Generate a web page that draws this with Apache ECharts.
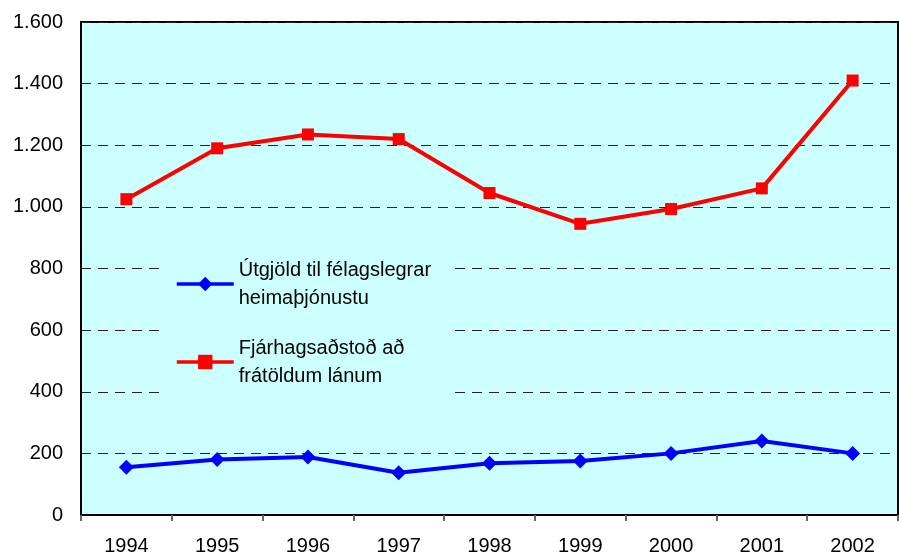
<!DOCTYPE html>
<html>
<head>
<meta charset="utf-8">
<script src="https://cdn.jsdelivr.net/npm/echarts@6/dist/echarts.min.js"></script>
<style>
  html, body { margin: 0; padding: 0; background: #fff; }
  #main { width: 899px; height: 558px; }
</style>
</head>
<body>
<div id="main"></div>
<script>
// data
const years = ['1994', '1995', '1996', '1997', '1998', '1999', '2000', '2001', '2002']
const heimathjonusta = [155, 180, 188, 137, 168, 175, 200, 240, 200]
const fjarhagsadstod = [1025, 1190, 1235, 1220, 1045, 945, 993, 1060, 1410]
const yTicks = [0, 200, 400, 600, 800, 1000, 1200, 1400, 1600]

const nameBlue = 'Útgjöld til félagslegrar heimaþjónustu'
const nameRed = 'Fjárhagsaðstoð að frátöldum lánum'
// legend text is wrapped on two lines like in the original
const legendText = {
  [nameBlue]: 'Útgjöld til félagslegrar\nheimaþjónustu',
  [nameRed]: 'Fjárhagsaðstoð að\nfrátöldum lánum'
}

const font = 'Liberation Sans, Arial, sans-serif'
const chart = echarts.init(document.getElementById('main'))

const option = {
  animation: false,
  textStyle: { fontFamily: font, color: '#000' },
  grid: {
    left: 81,
    right: 1,
    top: 22,
    bottom: 43,
    show: true,
    backgroundColor: '#ccffff',
    borderColor: '#000',
    borderWidth: 2
  },
  legend: {
    orient: 'vertical',
    left: 165,
    top: 238,
    padding: [4, 20, 10, 10],
    backgroundColor: '#ccffff',
    itemWidth: 57,
    itemHeight: 18,
    itemGap: -6,
    lineStyle: { width: 3.5 },
    formatter: (n) => legendText[n],
    textStyle: {
      fontFamily: font,
      fontSize: 20,
      color: '#000',
      lineHeight: 28,
      padding: [28, 0, 0, 0]
    },
    data: [nameBlue, nameRed]
  },
  xAxis: {
    type: 'category',
    data: years,
    boundaryGap: true,
    axisLine: { lineStyle: { color: '#000', width: 2 } },
    axisTick: { show: true, length: 6, lineStyle: { color: '#666', width: 2 } },
    axisLabel: { fontSize: 20, color: '#000', margin: 21, fontFamily: font },
    splitLine: { show: false }
  },
  yAxis: {
    type: 'value',
    min: 0,
    max: 1600,
    interval: 200,
    axisLine: { show: true, lineStyle: { color: '#000', width: 2 } },
    axisTick: { show: false },
    axisLabel: {
      fontSize: 20,
      color: '#000',
      margin: 18,
      fontFamily: font,
      formatter: (v) => yTicks.includes(v) ? String(v).replace(/\B(?=(\d{3})+(?!\d))/g, '.') : ''
    },
    splitLine: {
      show: true,
      lineStyle: { color: '#222', width: 1, type: [10, 7] }
    }
  },
  series: [
    {
      name: nameBlue,
      type: 'line',
      data: heimathjonusta,
      symbol: 'diamond',
      symbolSize: 15,
      lineStyle: { color: '#0000ff', width: 4 },
      itemStyle: { color: '#0000ff' }
    },
    {
      name: nameRed,
      type: 'line',
      data: fjarhagsadstod,
      symbol: 'rect',
      symbolSize: 12,
      lineStyle: { color: '#ff0000', width: 4 },
      itemStyle: { color: '#ff0000' }
    }
  ]
}

chart.setOption(option)
</script>
</body>
</html>
